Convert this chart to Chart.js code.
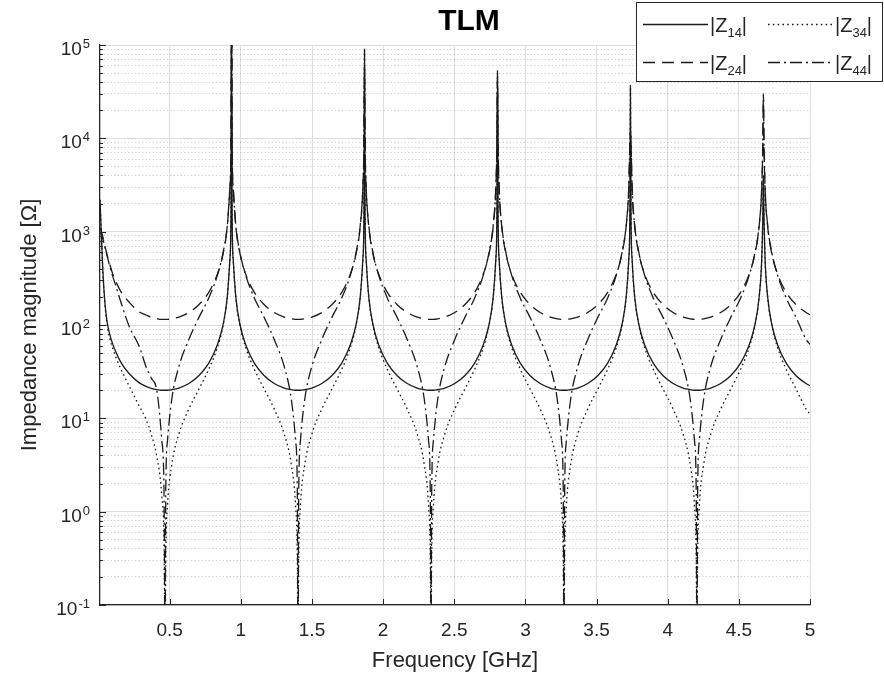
<!DOCTYPE html>
<html>
<head>
<meta charset="utf-8">
<title>TLM</title>
<script src="https://cdn.jsdelivr.net/npm/chart.js@4.4.0/dist/chart.umd.min.js"></script>
<style>
  html, body { margin: 0; padding: 0; background: #fff; }
</style>
</head>
<body>
<canvas id="myChart" width="884" height="676"></canvas>
<script>
// frequency samples [GHz] (denser near peaks and dips)
const freq = [
  0.01, 0.02, 0.03, 0.045, 0.06, 0.08, 0.1, 0.122, 0.16, 0.216, 0.286, 0.333, 0.37, 0.409, 0.444, 0.46, 0.4673,
  0.4725, 0.4845, 0.5145, 0.5645, 0.6345, 0.7045, 0.7745, 0.8345, 0.8745, 0.9045, 0.9225, 0.9305,
  0.9345,
  0.9385, 0.9465, 0.9645, 0.9945, 1.0345, 1.0945, 1.1645, 1.2345, 1.3045, 1.3545, 1.3845, 1.3965,
  1.4018,
  1.407, 1.419, 1.449, 1.499, 1.569, 1.639, 1.709, 1.769, 1.809, 1.839, 1.857, 1.865,
  1.869,
  1.873, 1.881, 1.899, 1.929, 1.969, 2.029, 2.099, 2.169, 2.239, 2.289, 2.319, 2.331,
  2.3363,
  2.3415, 2.3535, 2.3835, 2.4335, 2.5035, 2.5735, 2.6435, 2.7035, 2.7435, 2.7735, 2.7915, 2.7995,
  2.8035,
  2.8075, 2.8155, 2.8335, 2.8635, 2.9035, 2.9635, 3.0335, 3.1035, 3.1735, 3.2235, 3.2535, 3.2655,
  3.2708,
  3.276, 3.288, 3.318, 3.368, 3.438, 3.508, 3.578, 3.638, 3.678, 3.708, 3.726, 3.734,
  3.738,
  3.742, 3.75, 3.768, 3.798, 3.838, 3.898, 3.968, 4.038, 4.108, 4.158, 4.188, 4.2,
  4.2053,
  4.2105, 4.2225, 4.2525, 4.3025, 4.3725, 4.4425, 4.5125, 4.5725, 4.6125, 4.6425, 4.6605, 4.6685,
  4.6725,
  4.6765, 4.6845, 4.7025, 4.7325, 4.7725, 4.8325, 4.9025, 4.9725, 5.0
];

// |Z14| solid
const z14 = [
  2200, 900, 380, 170, 108, 78, 62, 51, 39, 30, 24, 22, 21, 20.3, 20, 20, 20,
  20, 20, 20.3, 21.1, 23.6, 28.6, 39, 61, 100, 199, 496, 1490,
  150000,
  1490, 496, 199, 100, 61, 39, 28.6, 23.6, 21.1, 20.3, 20, 20,
  20,
  20, 20, 20.3, 21.1, 23.6, 28.6, 39, 61, 100, 199, 496, 1490,
  90000,
  1490, 496, 199, 100, 61, 39, 28.6, 23.6, 21.1, 20.3, 20, 20,
  20,
  20, 20, 20.3, 21.1, 23.6, 28.6, 39, 61, 100, 199, 496, 1490,
  53000,
  1490, 496, 199, 100, 61, 39, 28.6, 23.6, 21.1, 20.3, 20, 20,
  20,
  20, 20, 20.3, 21.1, 23.6, 28.6, 39, 61, 100, 199, 496, 1490,
  37000,
  1490, 496, 199, 100, 61, 39, 28.6, 23.6, 21.1, 20.3, 20, 20,
  20,
  20, 20, 20.3, 21.1, 23.6, 28.6, 39, 61, 100, 199, 496, 1490,
  4000,
  1490, 496, 199, 100, 61, 39, 28.6, 23.6, 22.4
];

// |Z24| dashed
const z24 = [
  1100, 1000, 880, 700, 560, 440, 350, 290, 224, 175, 138, 128, 121, 117, 115, 115, 115,
  115, 115, 116.5, 121.5, 136, 165, 224, 349, 574, 1140, 2850, 8550,
  800000,
  8550, 2850, 1140, 574, 349, 224, 165, 136, 121.5, 116.5, 115, 115,
  115,
  115, 115, 116.5, 121.5, 136, 165, 224, 349, 574, 1140, 2850, 8550,
  60000,
  8550, 2850, 1140, 574, 349, 224, 165, 136, 121.5, 116.5, 115, 115,
  115,
  115, 115, 116.5, 121.5, 136, 165, 224, 349, 574, 1140, 2850, 8550,
  45000,
  8550, 2850, 1140, 574, 349, 224, 165, 136, 121.5, 116.5, 115, 115,
  115,
  115, 115, 116.5, 121.5, 136, 165, 224, 349, 574, 1140, 2850, 8550,
  12000,
  8550, 2850, 1140, 574, 349, 224, 165, 136, 121.5, 116.5, 115, 115,
  115,
  115, 115, 116.5, 121.5, 136, 165, 224, 349, 574, 1140, 2850, 8550,
  30000,
  8550, 2850, 1140, 574, 349, 224, 165, 136, 129
];

// |Z34| dotted
const z34 = [
  2200, 900, 370, 165, 100, 70, 56, 45, 33, 22, 13.5, 9.8, 6.8, 3.9, 1.5, 0.45, 0.04,
  0.35, 1.16, 3.2, 6.8, 12.6, 20.5, 33.6, 57, 98, 198, 495, 1490,
  150000,
  1490, 495, 198, 98, 57, 33.6, 20.5, 12.6, 6.8, 3.2, 1.16, 0.35,
  0.04,
  0.35, 1.16, 3.2, 6.8, 12.6, 20.5, 33.6, 57, 98, 198, 495, 1490,
  88000,
  1490, 495, 198, 98, 57, 33.6, 20.5, 12.6, 6.8, 3.2, 1.16, 0.35,
  0.04,
  0.35, 1.16, 3.2, 6.8, 12.6, 20.5, 33.6, 57, 98, 198, 495, 1490,
  50000,
  1490, 495, 198, 98, 57, 33.6, 20.5, 12.6, 6.8, 3.2, 1.16, 0.35,
  0.04,
  0.35, 1.16, 3.2, 6.8, 12.6, 20.5, 33.6, 57, 98, 198, 495, 1490,
  35000,
  1490, 495, 198, 98, 57, 33.6, 20.5, 12.6, 6.8, 3.2, 1.16, 0.35,
  0.04,
  0.35, 1.16, 3.2, 6.8, 12.6, 20.5, 33.6, 57, 98, 198, 495, 1490,
  4000,
  1490, 495, 198, 98, 57, 33.6, 20.5, 12.6, 11
];

// |Z44| dash-dot
const z44 = [
  1000, 930, 840, 680, 550, 420, 330, 260, 170, 96, 59, 36, 27, 20, 5.9, 1.6, 0.04,
  1.8, 5.8, 16, 36, 70, 120, 195, 340, 590, 1170, 2950, 8800,
  800000,
  8800, 2950, 1170, 590, 340, 195, 120, 70, 36, 16, 5.8, 1.8,
  0.04,
  1.8, 5.8, 16, 36, 70, 120, 195, 340, 590, 1170, 2950, 8800,
  60000,
  8800, 2950, 1170, 590, 340, 195, 120, 70, 36, 16, 5.8, 1.8,
  0.04,
  1.8, 5.8, 16, 36, 70, 120, 195, 340, 590, 1170, 2950, 8800,
  42000,
  8800, 2950, 1170, 590, 340, 195, 120, 70, 36, 16, 5.8, 1.8,
  0.04,
  1.8, 5.8, 16, 36, 70, 120, 195, 340, 590, 1170, 2950, 8800,
  11000,
  8800, 2950, 1170, 590, 340, 195, 120, 70, 36, 16, 5.8, 1.8,
  0.04,
  1.8, 5.8, 16, 36, 70, 120, 195, 340, 590, 1170, 2950, 8800,
  27000,
  8800, 2950, 1170, 590, 340, 195, 120, 70, 62
];

const xTicks = [0.5, 1, 1.5, 2, 2.5, 3, 3.5, 4, 4.5, 5];
const yDecades = [0.1, 1, 10, 100, 1000, 10000, 100000];
const yMinorSteps = [2, 3, 4, 5, 6, 7, 8, 9];
const seriesNames = ['|Z14|', '|Z24|', '|Z34|', '|Z44|'];
const seriesSubs = ['14', '24', '34', '44'];

const FONT = '"Liberation Sans", Arial, Helvetica, sans-serif';
const inkColor = '#262626';
const lineColor = '#1a1a1a';
const majorGrid = '#dedede';
const minorGrid = 'rgba(0,0,0,0.24)';

function isDecade(v) {
  const l = Math.log10(v);
  return Math.abs(l - Math.round(l)) < 1e-6;
}

function pts(ys) {
  return freq.map((f, i) => ({ x: f, y: ys[i] }));
}

const yTickValues = [];
yDecades.forEach((d, k) => {
  yTickValues.push(d);
  if (k < yDecades.length - 1) yMinorSteps.forEach(m => yTickValues.push(d * m));
});

const lineStyles = [
  { dash: [] },
  { dash: [12, 7] },
  { dash: [1.6, 3.2] },
  { dash: [12, 4, 2, 4] }
];

const decor = {
  id: 'decor',
  afterDraw(chart) {
    const ctx = chart.ctx;
    const a = chart.chartArea;
    const x = chart.scales.x, y = chart.scales.y;
    ctx.save();

    // inner tick marks
    ctx.strokeStyle = inkColor;
    ctx.lineWidth = 1;
    ctx.setLineDash([]);
    yTickValues.forEach(v => {
      const py = Math.round(y.getPixelForValue(v)) + 0.5;
      const len = isDecade(v) ? 6 : 3;
      ctx.beginPath();
      ctx.moveTo(a.left, py);
      ctx.lineTo(a.left + len, py);
      ctx.stroke();
    });
    xTicks.forEach(v => {
      const px = Math.round(x.getPixelForValue(v)) + 0.5;
      ctx.beginPath();
      ctx.moveTo(px, a.bottom);
      ctx.lineTo(px, a.bottom - 6);
      ctx.stroke();
    });

    // y labels 10^n
    ctx.fillStyle = inkColor;
    ctx.textBaseline = 'alphabetic';
    ctx.textAlign = 'left';
    yDecades.forEach(v => {
      const py = y.getPixelForValue(v);
      const exp = String(Math.round(Math.log10(v)));
      ctx.font = '13px ' + FONT;
      const ws = ctx.measureText(exp).width;
      ctx.font = '19px ' + FONT;
      const wb = ctx.measureText('10').width;
      const right = 90;
      ctx.fillText('10', right - ws - wb - 1, py + 10);
      ctx.font = '13px ' + FONT;
      ctx.fillText(exp, right - ws, py + 3);
    });

    // title
    ctx.fillStyle = '#000';
    ctx.textAlign = 'center';
    ctx.font = 'bold 30px ' + FONT;
    ctx.fillText('TLM', 469, 29.5);

    // legend box
    ctx.fillStyle = '#fff';
    ctx.fillRect(636, 2, 247, 80);
    ctx.strokeStyle = inkColor;
    ctx.lineWidth = 1;
    ctx.strokeRect(636.5, 2.5, 246, 79);
    const cols = [643, 768];
    const rows = [24, 62];
    ctx.textAlign = 'left';
    chart.data.datasets.forEach((ds, i) => {
      const lx = cols[Math.floor(i / 2)];
      const ry = rows[i % 2];
      ctx.strokeStyle = ds.borderColor;
      ctx.lineWidth = ds.borderWidth;
      ctx.setLineDash(ds.borderDash || []);
      ctx.beginPath();
      ctx.moveTo(lx, ry + 0.5);
      ctx.lineTo(lx + 65, ry + 0.5);
      ctx.stroke();
      ctx.setLineDash([]);
      ctx.fillStyle = inkColor;
      let tx = lx + 67;
      ctx.font = '20px ' + FONT;
      ctx.fillText('|Z', tx, ry + 7.5);
      tx += ctx.measureText('|Z').width;
      ctx.font = '13px ' + FONT;
      ctx.fillText(seriesSubs[i], tx, ry + 13);
      tx += ctx.measureText(seriesSubs[i]).width;
      ctx.font = '20px ' + FONT;
      ctx.fillText('|', tx, ry + 7.5);
    });

    ctx.restore();
  }
};

const data = {
  datasets: [z14, z24, z34, z44].map((ys, i) => ({
    label: seriesNames[i],
    data: pts(ys),
    borderColor: lineColor,
    borderWidth: 1.3,
    borderDash: lineStyles[i].dash,
    pointRadius: 0,
    fill: false,
    cubicInterpolationMode: 'monotone'
  }))
};

const config = {
  type: 'line',
  data: data,
  options: {
    responsive: false,
    animation: false,
    devicePixelRatio: 1,
    layout: { padding: { left: 0, right: 74, top: 45, bottom: 0 } },
    plugins: {
      legend: { display: false },
      title: { display: false },
      tooltip: { enabled: false }
    },
    scales: {
      x: {
        type: 'linear',
        min: 0.01,
        max: 5,
        afterBuildTicks: s => { s.ticks = xTicks.map(v => ({ value: v })); },
        afterFit: s => { s.height = 71; },
        ticks: {
          autoSkip: false,
          maxRotation: 0,
          padding: 14,
          color: inkColor,
          font: { family: FONT, size: 19 },
          callback: v => String(v)
        },
        grid: { color: majorGrid, lineWidth: 1, drawTicks: false },
        border: { display: true, color: inkColor, width: 1.3 },
        title: {
          display: true,
          text: 'Frequency [GHz]',
          color: inkColor,
          font: { family: FONT, size: 22 },
          padding: { top: 0, bottom: 2 }
        }
      },
      y: {
        type: 'logarithmic',
        min: 0.1,
        max: 100000,
        afterBuildTicks: s => { s.ticks = yTickValues.map(v => ({ value: v, major: isDecade(v) })); },
        afterFit: s => { s.width = 100; },
        ticks: { display: false, autoSkip: false },
        grid: {
          color: c => (c.tick && !isDecade(c.tick.value)) ? minorGrid : majorGrid,
          lineWidth: 1,
          drawTicks: false
        },
        border: {
          display: true,
          color: inkColor,
          width: 1.3,
          dash: c => (c.tick && !isDecade(c.tick.value)) ? [1, 2.5] : []
        },
        title: {
          display: true,
          text: 'Impedance magnitude [Ω]',
          color: inkColor,
          font: { family: FONT, size: 22 },
          padding: { top: 17, bottom: 0 }
        }
      }
    }
  },
  plugins: [decor]
};

var myChart = new Chart(document.getElementById('myChart'), config);
</script>
</body>
</html>
